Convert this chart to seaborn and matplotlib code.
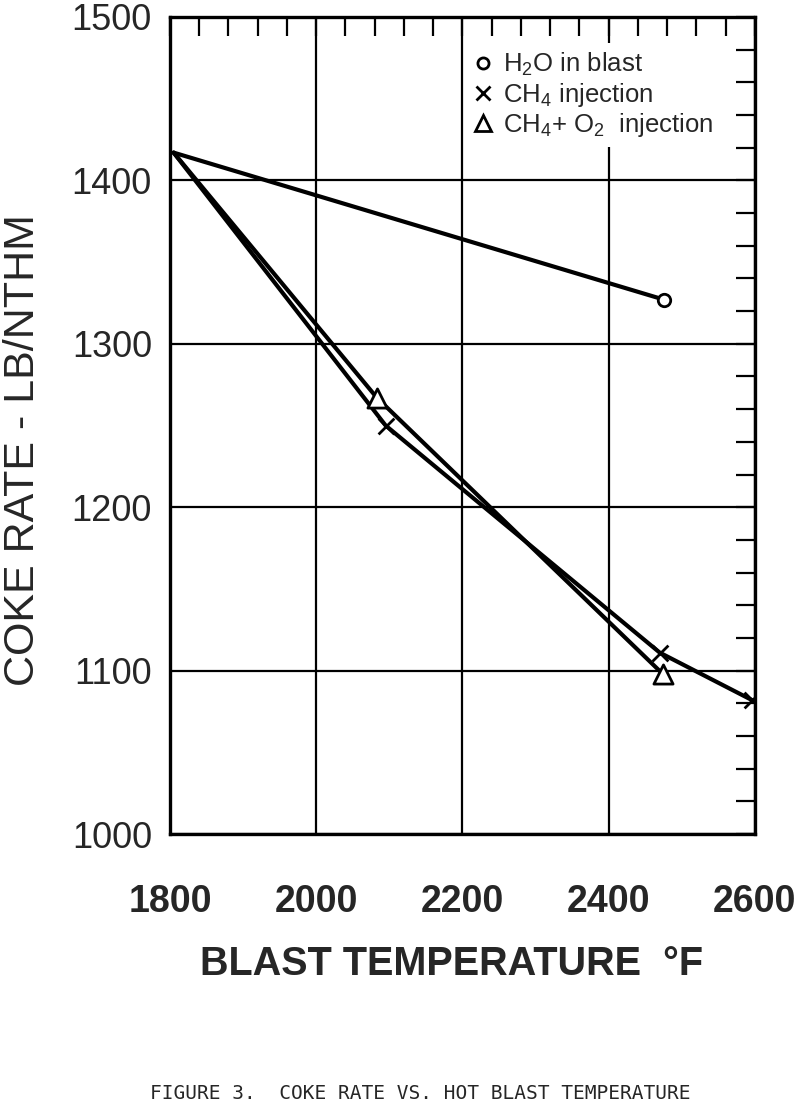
import matplotlib
matplotlib.use("Agg")
import matplotlib.pyplot as plt
from matplotlib.ticker import MultipleLocator
from matplotlib.lines import Line2D
import seaborn as sns
import pandas as pd

# ---- data ----
h2o_temp = [1805, 2476]
h2o_rate = [1417, 1327]
ch4_temp = [1805, 2095, 2470, 2596]
ch4_rate = [1417, 1250, 1111, 1082]
ch4o2_temp = [1805, 2083, 2474]
ch4o2_rate = [1417, 1267, 1098]

x_ticks = [1800, 2000, 2200, 2400, 2600]
y_ticks = [1000, 1100, 1200, 1300, 1400, 1500]
series_labels = [r"$\mathregular{H_2O}$ in blast",
                 r"$\mathregular{CH_4}$ injection",
                 r"$\mathregular{CH_4}$+ $\mathregular{O_2}$  injection"]

sns.set_style("white")
plt.rcParams['font.family'] = ['Liberation Sans', 'DejaVu Sans']
plt.rcParams['mathtext.fontset'] = 'custom'
plt.rcParams['mathtext.rm'] = 'Liberation Sans'

frames = []
for name, t, r in [("h2o", h2o_temp, h2o_rate), ("ch4", ch4_temp, ch4_rate),
                   ("ch4o2", ch4o2_temp, ch4o2_rate)]:
    frames.append(pd.DataFrame({"series": name, "temp": t, "rate": r}))
df = pd.concat(frames, ignore_index=True)

fig = plt.figure(figsize=(8, 11.11), dpi=100)
ax = fig.add_axes([0.2125, 0.2493, 0.731, 0.7354])

for name in ["h2o", "ch4", "ch4o2"]:
    sub = df[df.series == name]
    sns.lineplot(data=sub, x="temp", y="rate", color="black", lw=3,
                 sort=False, estimator=None, ax=ax, legend=False, zorder=3)

marker_style = {"h2o": ("o", 80), "ch4": ("x", 130), "ch4o2": ("^", 190)}
for name, (m, s) in marker_style.items():
    sub = df[df.series == name].iloc[1:]
    if m == "x":
        sns.scatterplot(data=sub, x="temp", y="rate", marker=m, s=s,
                        color="black", linewidth=2, ax=ax, legend=False, zorder=4)
    else:
        sns.scatterplot(data=sub, x="temp", y="rate", marker=m, s=s,
                        facecolor="white", edgecolor="black", linewidth=2,
                        ax=ax, legend=False, zorder=4)

ax.set_xlim(1800, 2600)
ax.set_ylim(1000, 1500)
ax.set_xticks(x_ticks)
ax.set_yticks(y_ticks)
ax.xaxis.set_minor_locator(MultipleLocator(40))
ax.yaxis.set_minor_locator(MultipleLocator(20))
ax.tick_params(which="both", direction="in", top=True, right=True,
               length=14, width=1.6, color="black")
ax.tick_params(axis="x", which="major", pad=36)
ax.tick_params(axis="y", which="major", pad=13)
for lab in ax.get_xticklabels():
    lab.set_fontsize(27)
    lab.set_fontweight("bold")
for lab in ax.get_yticklabels():
    lab.set_fontsize(26)
ax.grid(True, which="major", color="black", lw=1.6, zorder=1)
ax.set_axisbelow(True)
for sp in ax.spines.values():
    sp.set_linewidth(2.4)
    sp.set_color("black")
    sp.set_visible(True)

ax.set_xlabel("BLAST TEMPERATURE  °F", fontsize=28.5, fontweight="bold")
ax.xaxis.set_label_coords(0.482, -0.136)
ax.set_ylabel("COKE RATE - LB/NTHM", fontsize=31)
ax.yaxis.set_label_coords(-0.218, 0.47)

handles = [
    Line2D([], [], marker="o", ls="none", mfc="white", mec="black", ms=8, mew=2),
    Line2D([], [], marker="x", ls="none", color="black", ms=10, mew=2),
    Line2D([], [], marker="^", ls="none", mfc="white", mec="black", ms=11, mew=2),
]
leg = ax.legend(handles, series_labels, loc="upper left",
                bbox_to_anchor=(0.505, 0.968), frameon=True, facecolor="white",
                edgecolor="none", framealpha=1, fancybox=False,
                prop={"family": "Liberation Sans", "size": 18.5},
                handlelength=0.8, handletextpad=0.35, labelspacing=0.1,
                borderpad=0.3, borderaxespad=0)
leg.set_zorder(5)

fig.text(0.525, 0.007, "FIGURE 3.  COKE RATE VS. HOT BLAST TEMPERATURE",
         ha="center", va="bottom", fontsize=14, family="DejaVu Sans Mono")

fig.savefig("out.png", dpi=100, facecolor="white")
